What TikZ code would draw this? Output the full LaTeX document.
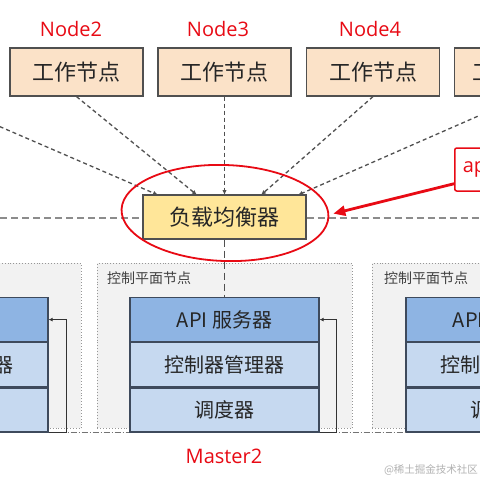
\documentclass[tikz,border=0pt]{standalone}
\usepackage{fontspec}
\setmainfont{Noto Sans CJK SC}
\newfontfamily\latfont{Open Sans}
\usetikzlibrary{arrows.meta,calc,shapes.geometric}
\definecolor{peach}{RGB}{251,226,200}
\definecolor{lbfill}{RGB}{255,230,153}
\definecolor{apifill}{RGB}{142,180,227}
\definecolor{rowfill}{RGB}{198,217,240}
\definecolor{stackline}{RGB}{62,74,92}
\definecolor{panelfill}{RGB}{242,242,242}
\definecolor{panelline}{RGB}{150,150,150}
\definecolor{myred}{RGB}{232,10,20}
\definecolor{boxline}{RGB}{80,80,80}
\definecolor{conn}{RGB}{80,80,80}
\tikzset{
  worker/.style={draw=boxline, line width=1.2pt, fill=peach, minimum width=133pt, minimum height=48pt, inner sep=0pt,
    font=\fontsize{22}{25}\selectfont, text=black!85},
  nodelbl/.style={text=myred, font=\latfont\fontsize{20}{23}\selectfont, inner sep=0pt},
  lbbox/.style={draw=boxline, line width=1.2pt, fill=lbfill, minimum width=163pt, minimum height=44pt, inner sep=0pt,
    font=\fontsize{22}{25}\selectfont, text=black!85},
  dasharrow/.style={draw=conn, line width=1.3pt, dash pattern=on 4pt off 3pt, -{Latex[length=5pt,width=4.5pt]}},
  panel/.style={draw=panelline, line width=0.9pt, dotted, fill=panelfill, minimum width=255pt, minimum height=165pt, inner sep=0pt},
  panellbl/.style={text=black!75, font=\fontsize{14}{16}\selectfont, inner sep=0pt, anchor=west},
  apirow/.style={draw=stackline, line width=1.2pt, fill=apifill, minimum width=189pt, minimum height=44pt, inner sep=0pt,
    anchor=north, font=\fontsize{20}{23}\selectfont, text=black!85},
  subrow/.style={apirow, fill=rowfill},
  fbline/.style={draw=black!80, line width=1pt, -{Latex[length=4pt,width=4pt]}},
  baseline/.style={draw=black!55, line width=1pt, dash pattern=on 6pt off 2pt on 1pt off 2pt},
  hdash/.style={draw=black!45, line width=1.6pt, dash pattern=on 7pt off 4pt},
  vdash/.style={draw=conn, line width=1pt, dash pattern=on 7pt off 4pt},
  ring/.style={draw=myred, line width=1.8pt, ellipse, minimum width=207pt, minimum height=96pt, inner sep=0pt},
  callout/.style={draw=myred, line width=1.5pt, rounded corners=2pt, fill=white, text width=60pt, align=left,
    inner xsep=8pt, minimum height=43pt, anchor=west, text=myred, font=\latfont\fontsize{20}{23}\selectfont},
  redarrow/.style={draw=myred, line width=2.8pt, -{Triangle[length=12pt,width=10pt]}},
}
\begin{document}
\begin{tikzpicture}[x=1pt,y=-1pt]
\useasboundingbox (0,0) rectangle (480,480);
\clip (0,0) rectangle (480,480);
\fill[white] (0,0) rectangle (480,480);

% panels
\node (p1) [panel, anchor=north west] at (-174,263) {};
\node (p2) [panel, anchor=north west] at (97,263) {};
\node (p3) [panel, anchor=north west] at (372,263) {};
\node (pl2) [panellbl] at (107,278) {控制平面节点};
\node (pl3) [panellbl] at (384,278) {控制平面节点};

% worker nodes
\coordinate (w0) at (-71,96);
\node (w1) [worker] at (76.5,72) {工作节点};
\node (w2) [worker] at (224.5,72) {工作节点};
\node (w3) [worker] at (373,72) {工作节点};
\node (w4) [worker, anchor=west, text width=100pt, align=left, inner xsep=18pt] at (454,72) {工作节点};
\node (n2) [nodelbl] at (71,29) {Node2};
\node (n3) [nodelbl] at (218,29) {Node3};
\node (n4) [nodelbl] at (370,29) {Node4};

% load balancer
\node (lb) [lbbox] at (224.5,217) {负载均衡器};

% horizontal dashed line
\coordinate (hl) at (0,218);
\coordinate (hr) at (480,218);
\draw[hdash] (hl) -- (lb.west |- hl);
\draw[hdash] (lb.east |- hr) -- (hr);

% dashed arrows
\coordinate (t0) at (158,195);
\coordinate (t1) at (197,195);
\coordinate (t2) at (224.5,195);
\coordinate (t3) at (261,195);
\coordinate (t4) at (298,195);
\draw[dasharrow] (w0) -- (t0);
\draw[dasharrow] (w1.south) -- (t1);
\draw[dasharrow] (w2.south) -- (t2);
\draw[dasharrow] (w3.south) -- (t3);
\draw[dasharrow] (w4.south) -- (t4);

% stacks
\node (api1) [apirow] at (-46.5,297) {};
\node (ctl1) [subrow] at (api1.south) {控制器管理器};
\node (sch1) [subrow] at (ctl1.south) {};
\node (api2) [apirow] at (224.5,297) {API 服务器};
\node (ctl2) [subrow] at (api2.south) {控制器管理器};
\node (sch2) [subrow] at (ctl2.south) {调度器};
\node (api3) [apirow] at (500.5,297) {API 服务器};
\node (ctl3) [subrow] at (api3.south) {控制器管理器};
\node (sch3) [subrow] at (ctl3.south) {调度器};

% vertical dashed from LB to API server
\draw[vdash] (lb.south) -- (api2.north);

% bottom dash-dot lines
\draw[baseline] (sch1.south east) -- (sch2.south west);
\draw[baseline] (sch2.south east) -- (sch3.south west);

% feedback connectors
\draw[fbline] (sch1.south east) -- ++(18,0) |- (api1.east);
\draw[fbline] (sch2.south east) -- ++(17,0) |- (api2.east);

% red ellipse, callout and arrow
\node (el) [ring, rotate=-2] at (225,213) {};
\node (co) [callout] at (454,169.5) {ap};
\coordinate (cs) at ($(co.south west)+(0,-8)$);
\draw[redarrow] (cs) -- ($(el.east)+(4,-3)$);

% labels
\node (m2) [text=myred, font=\latfont\fontsize{20}{23}\selectfont, inner sep=0pt] at (224,456) {Master2};
\node (wm) [text=black!30, font=\fontsize{10.5}{12}\selectfont, inner sep=0pt] at (431,470) {@稀土掘金技术社区};
\end{tikzpicture}
\end{document}
